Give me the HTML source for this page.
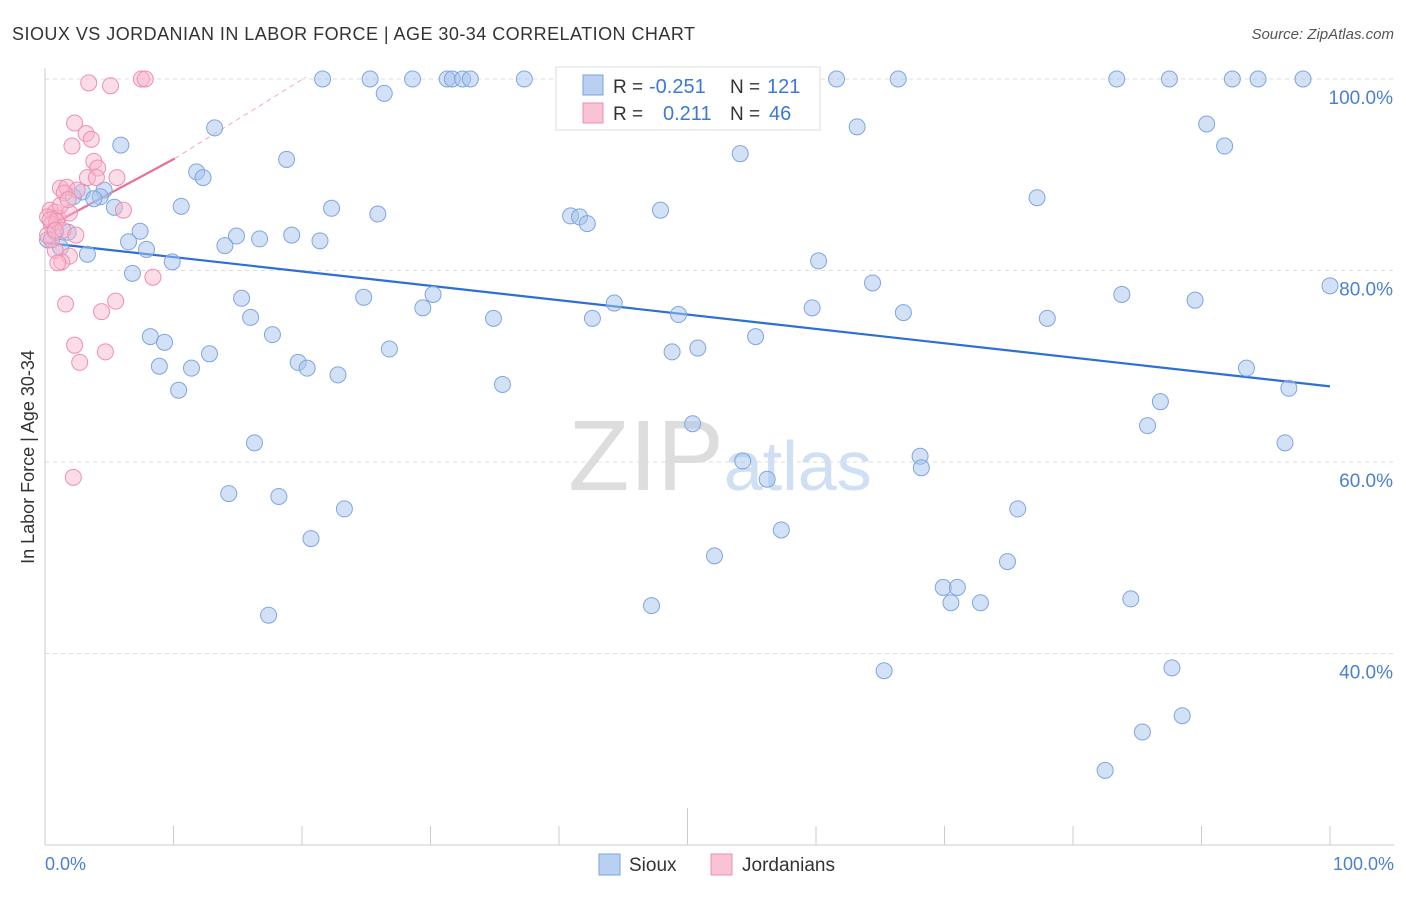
<!DOCTYPE html>
<html><head><meta charset="utf-8">
<style>
body{margin:0;background:#fff;font-family:"Liberation Sans",sans-serif;}
svg text{font-family:"Liberation Sans",sans-serif;}
</style></head>
<body>
<svg id="chart" width="1406" height="892" viewBox="0 0 1406 892" xmlns="http://www.w3.org/2000/svg">
<text x="12" y="40" font-size="18" fill="#333" textLength="683" lengthAdjust="spacing">SIOUX VS JORDANIAN IN LABOR FORCE | AGE 30-34 CORRELATION CHART</text>
<text x="1394" y="39" font-size="15" fill="#555" text-anchor="end" font-style="italic">Source: ZipAtlas.com</text>
<text x="720" y="490" font-size="100" fill="#ddd" text-anchor="middle" font-family="Liberation Serif">ZIP<tspan fill="#cfe0f5" font-family="Liberation Sans" font-size="70">atlas</tspan></text>
<g id="grid"></g><g id="axes"></g><g id="trends"></g><g id="pts"></g>
<text transform="translate(34,457) rotate(-90)" font-size="18" fill="#333" text-anchor="middle">In Labor Force | Age 30-34</text>
<text x="45" y="870" font-size="18" fill="#4a7fd4">0.0%</text>
<text x="1394" y="870" font-size="18" fill="#4a7fd4" text-anchor="end">100.0%</text>
<g>
<rect x="556" y="67" width="264" height="63" fill="#fff" stroke="#ddd"/>
<rect x="583" y="75" width="20" height="20" fill="#b9d0f2" stroke="#7aa3e0"/>
<rect x="583" y="103" width="20" height="20" fill="#f9c3d4" stroke="#ee8fb0"/>
<text x="613" y="93" font-size="19" fill="#333">R =</text>
<text x="649" y="93" font-size="20" fill="#3b78d8">-0.251</text>
<text x="730" y="93" font-size="19" fill="#333">N =</text>
<text x="767" y="93" font-size="20" fill="#3b78d8">121</text>
<text x="613" y="120" font-size="19" fill="#333">R =</text>
<text x="663" y="120" font-size="20" fill="#3b78d8">0.211</text>
<text x="730" y="120" font-size="19" fill="#333">N =</text>
<text x="769" y="120" font-size="20" fill="#3b78d8">46</text>
</g>
<g>
<rect x="599" y="854" width="21" height="21" fill="#b9d0f2" stroke="#7aa3e0"/>
<text x="629" y="871" font-size="19" fill="#333">Sioux</text>
<rect x="711" y="854" width="21" height="21" fill="#f9c3d4" stroke="#ee8fb0"/>
<text x="742" y="871" font-size="19" fill="#333">Jordanians</text>
</g>
</svg>
<script>
const yTicks=[100,80,60,40];
const yTickLabels=["100.0%","80.0%","60.0%","40.0%"];
const xTicks=[0,10,20,30,40,50,60,70,80,90,100];
const siouxX=[21.6,25.3,28.6,31.3,31.7,32.5,33.1,37.3,46.5,55.6,61.6,66.4,83.4,87.5,92.4,94.4,97.9,26.4,5.9,13.2,18.8,11.8,12.3,10.6,4.6,2.9,4.3,3.8,5.4,2.2,22.3,25.9,40.9,41.6,42.2,47.9,63.2,54.1,77.2,90.4,91.8,7.4,6.5,7.9,14.9,14.0,16.7,19.2,21.4,3.3,9.9,6.8,60.2,64.4,100,83.8,89.5,15.3,16.0,24.8,30.2,29.4,34.9,42.6,44.3,49.3,59.7,66.8,78.0,8.2,9.3,17.7,12.8,8.9,11.4,19.7,20.4,22.8,26.8,48.8,50.8,55.3,10.4,35.6,93.5,96.8,86.8,85.8,96.5,50.4,16.3,54.3,68.1,68.2,56.2,14.3,18.2,23.3,75.7,20.7,52.1,57.3,74.9,69.9,71.0,70.5,72.8,84.5,47.2,17.4,65.3,87.7,88.5,85.4,82.5,0.8,1.2,0.2,1.8];
const siouxY=[100,100,100,100,100,100,100,100,100,100,100,100,100,100,100,100,100,98.5,93.1,94.9,91.6,90.3,89.7,86.7,88.4,88.2,87.7,87.5,86.6,87.7,86.5,85.9,85.7,85.6,84.9,86.3,95.0,92.2,87.6,95.3,93.0,84.1,83.0,82.2,83.6,82.6,83.3,83.7,83.1,81.7,80.9,79.7,81.0,78.7,78.4,77.5,76.9,77.1,75.1,77.2,77.5,76.1,75.0,75.0,76.6,75.4,76.1,75.6,75.0,73.1,72.5,73.3,71.3,70.0,69.8,70.4,69.8,69.1,71.8,71.5,71.9,73.1,67.5,68.1,69.8,67.7,66.3,63.8,62.0,64.0,62.0,60.1,60.6,59.4,58.2,56.7,56.4,55.1,55.1,52.0,50.2,52.9,49.6,46.9,46.9,45.3,45.3,45.7,45.0,44.0,38.2,38.5,33.5,31.8,27.8,84.0,82.4,83.2,84.0];
const jordX=[7.5,7.8,3.4,5.1,2.3,3.2,3.6,2.1,3.8,4.1,3.3,5.6,4.0,1.2,1.7,2.5,1.5,0.4,0.8,0.2,1.0,1.9,6.1,0.5,0.9,1.4,2.4,0.2,0.8,1.9,1.3,1.0,8.4,1.6,5.5,4.4,2.3,4.7,2.7,2.2,0.4,1.2,0.5,1.8,0.8];
const jordY=[100,100,99.6,99.3,95.4,94.3,93.7,93.0,91.4,90.7,89.7,89.7,89.7,88.6,88.7,88.4,88.1,86.3,86.1,85.6,85.5,86.0,86.3,84.8,85.1,84.2,83.7,83.7,82.1,81.5,80.9,80.8,79.3,76.5,76.8,75.7,72.2,71.5,70.4,58.4,85.3,86.8,83.2,87.4,84.2];
const siouxTrend=[82.9,67.9];
const jordTrend=[84.4,91.7,100.2];
const jordTrendX=[0,10.1,20.3];

const X=v=>45+v*12.85, Y=v=>79+(100-v)*9.575;
const NS="http://www.w3.org/2000/svg";
function mk(p,t,a){const e=document.createElementNS(NS,t);for(const k in a)e.setAttribute(k,a[k]);p.appendChild(e);return e;}
const grid=document.getElementById('grid'),axes=document.getElementById('axes'),tr=document.getElementById('trends'),pts=document.getElementById('pts');
yTicks.forEach((v,i)=>{
 const l=mk(grid,'line',{x1:45,x2:1394,y1:Y(v),y2:Y(v),stroke:'#ddd','stroke-dasharray':'4,4'});
 
 
 const t=mk(grid,'text',{x:1393,y:Y(v)+25,'font-size':19,fill:'#4a7fd4','text-anchor':'end'});
 t.textContent=yTickLabels[i];
 
 
});
const ya=mk(axes,'line',{x1:45,x2:45,y1:68,y2:845,stroke:'#ccc'});


const xa=mk(axes,'line',{x1:45,x2:1394,y1:845,y2:845,stroke:'#ccc'});


xTicks.forEach(v=>{
 const l=mk(axes,'line',{x1:X(v),x2:X(v),y1:v==50?808:826,y2:845,stroke:'#ccc'});
 
 
});
const sl=mk(tr,'line',{x1:X(0),y1:Y(siouxTrend[0]),x2:X(100),y2:Y(siouxTrend[1]),stroke:'#2d6fd6','stroke-width':2.2});


const jl=mk(tr,'line',{x1:X(jordTrendX[0]),y1:Y(jordTrend[0]),x2:X(jordTrendX[1]),y2:Y(jordTrend[1]),stroke:'#e8709a','stroke-width':2.2});


const jd=mk(tr,'line',{x1:X(jordTrendX[1]),y1:Y(jordTrend[1]),x2:X(jordTrendX[2]),y2:Y(jordTrend[2]),stroke:'#f0a8c0','stroke-width':1,'stroke-dasharray':'5,4'});


siouxX.forEach((x,i)=>{
 const c=mk(pts,'circle',{cx:X(x),cy:Y(siouxY[i]),r:8,fill:'rgba(165,195,238,0.5)',stroke:'#7fa6e0','stroke-width':1});
 
 
});
jordX.forEach((x,i)=>{
 const c=mk(pts,'circle',{cx:X(x),cy:Y(jordY[i]),r:8,fill:'rgba(248,180,202,0.45)',stroke:'#ee8fb0','stroke-width':1});
 
 
});
</script>
</body></html>
